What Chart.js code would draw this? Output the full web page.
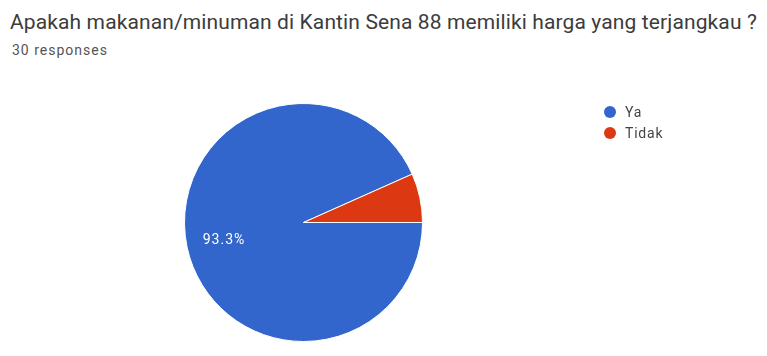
<!DOCTYPE html>
<html>
<head>
<meta charset="utf-8">
<script src="https://cdn.jsdelivr.net/npm/chart.js@4.4.1/dist/chart.umd.min.js"></script>
<style>
  html, body { margin: 0; padding: 0; background: #fff; }
  #wrap { position: relative; width: 767px; height: 356px; overflow: hidden; font-family: Roboto, "Noto Sans", sans-serif; }
  #title { position: absolute; left: 10px; top: 12px; font-size: 21px; line-height: 21px; color: #3c3c3c; white-space: nowrap; letter-spacing: 0.12px; }
  #subtitle { position: absolute; left: 12px; top: 43px; font-size: 14px; line-height: 14px; color: #555; white-space: nowrap; letter-spacing: 1px; }
  #legend { position: absolute; left: 604px; top: 101px; font-size: 14px; color: #444; letter-spacing: 0.8px; }
  #legend div { height: 21px; display: flex; align-items: center; }
  #legend span.dot { width: 12px; height: 12px; border-radius: 50%; display: inline-block; margin-right: 9px; }
  canvas { position: absolute; left: 0; top: 0; }
</style>
</head>
<body>
<div id="wrap">
  <div id="title"></div>
  <div id="subtitle"></div>
  <canvas id="c" width="767" height="356"></canvas>
  <div id="legend"></div>
</div>
<script>
const titleText = 'Apakah makanan/minuman di Kantin Sena 88 memiliki harga yang terjangkau ?';
const responseCount = 30;
const answerLabels = ['Ya', 'Tidak'];
const answerCounts = [28, 2];
const sliceColors = ['#3366cc', '#dc3912'];

document.getElementById('title').textContent = titleText;
document.getElementById('subtitle').textContent = responseCount + ' responses';

const legend = document.getElementById('legend');
answerLabels.forEach((lab, i) => {
  const row = document.createElement('div');
  const dot = document.createElement('span');
  dot.className = 'dot';
  dot.style.background = sliceColors[i];
  row.appendChild(dot);
  row.appendChild(document.createTextNode(lab));
  legend.appendChild(row);
});

// Percentage labels inside large slices, placed along each slice's middle angle
const sliceLabels = {
  id: 'sliceLabels',
  afterDatasetsDraw(chart) {
    const ctx = chart.ctx;
    const total = answerCounts.reduce((a, b) => a + b, 0);
    chart.getDatasetMeta(0).data.forEach((arc, i) => {
      const share = answerCounts[i] / total;
      if (share < 0.1) return;
      const p = arc.getProps(['x', 'y', 'startAngle', 'endAngle', 'outerRadius'], true);
      const mid = (p.startAngle + p.endAngle) / 2;
      const r = p.outerRadius * 0.7;
      ctx.save();
      ctx.fillStyle = '#ffffff';
      ctx.font = '14px Roboto, "Noto Sans", sans-serif';
      if ('letterSpacing' in ctx) ctx.letterSpacing = '1px';
      ctx.textAlign = 'center';
      ctx.textBaseline = 'middle';
      ctx.fillText((share * 100).toFixed(1) + '%', p.x + Math.cos(mid) * r + 2, p.y + Math.sin(mid) * r + 1);
      ctx.restore();
    });
  }
};

new Chart(document.getElementById('c'), {
  type: 'pie',
  data: {
    labels: answerLabels,
    datasets: [{
      data: answerCounts,
      backgroundColor: sliceColors,
      borderColor: '#ffffff',
      borderWidth: 1
    }]
  },
  options: {
    responsive: false,
    animation: false,
    rotation: 90,
    layout: { padding: { left: 183, right: 343, top: 103, bottom: 14 } },
    plugins: {
      legend: { display: false },
      tooltip: { enabled: false }
    }
  },
  plugins: [sliceLabels]
});
</script>
</body>
</html>
